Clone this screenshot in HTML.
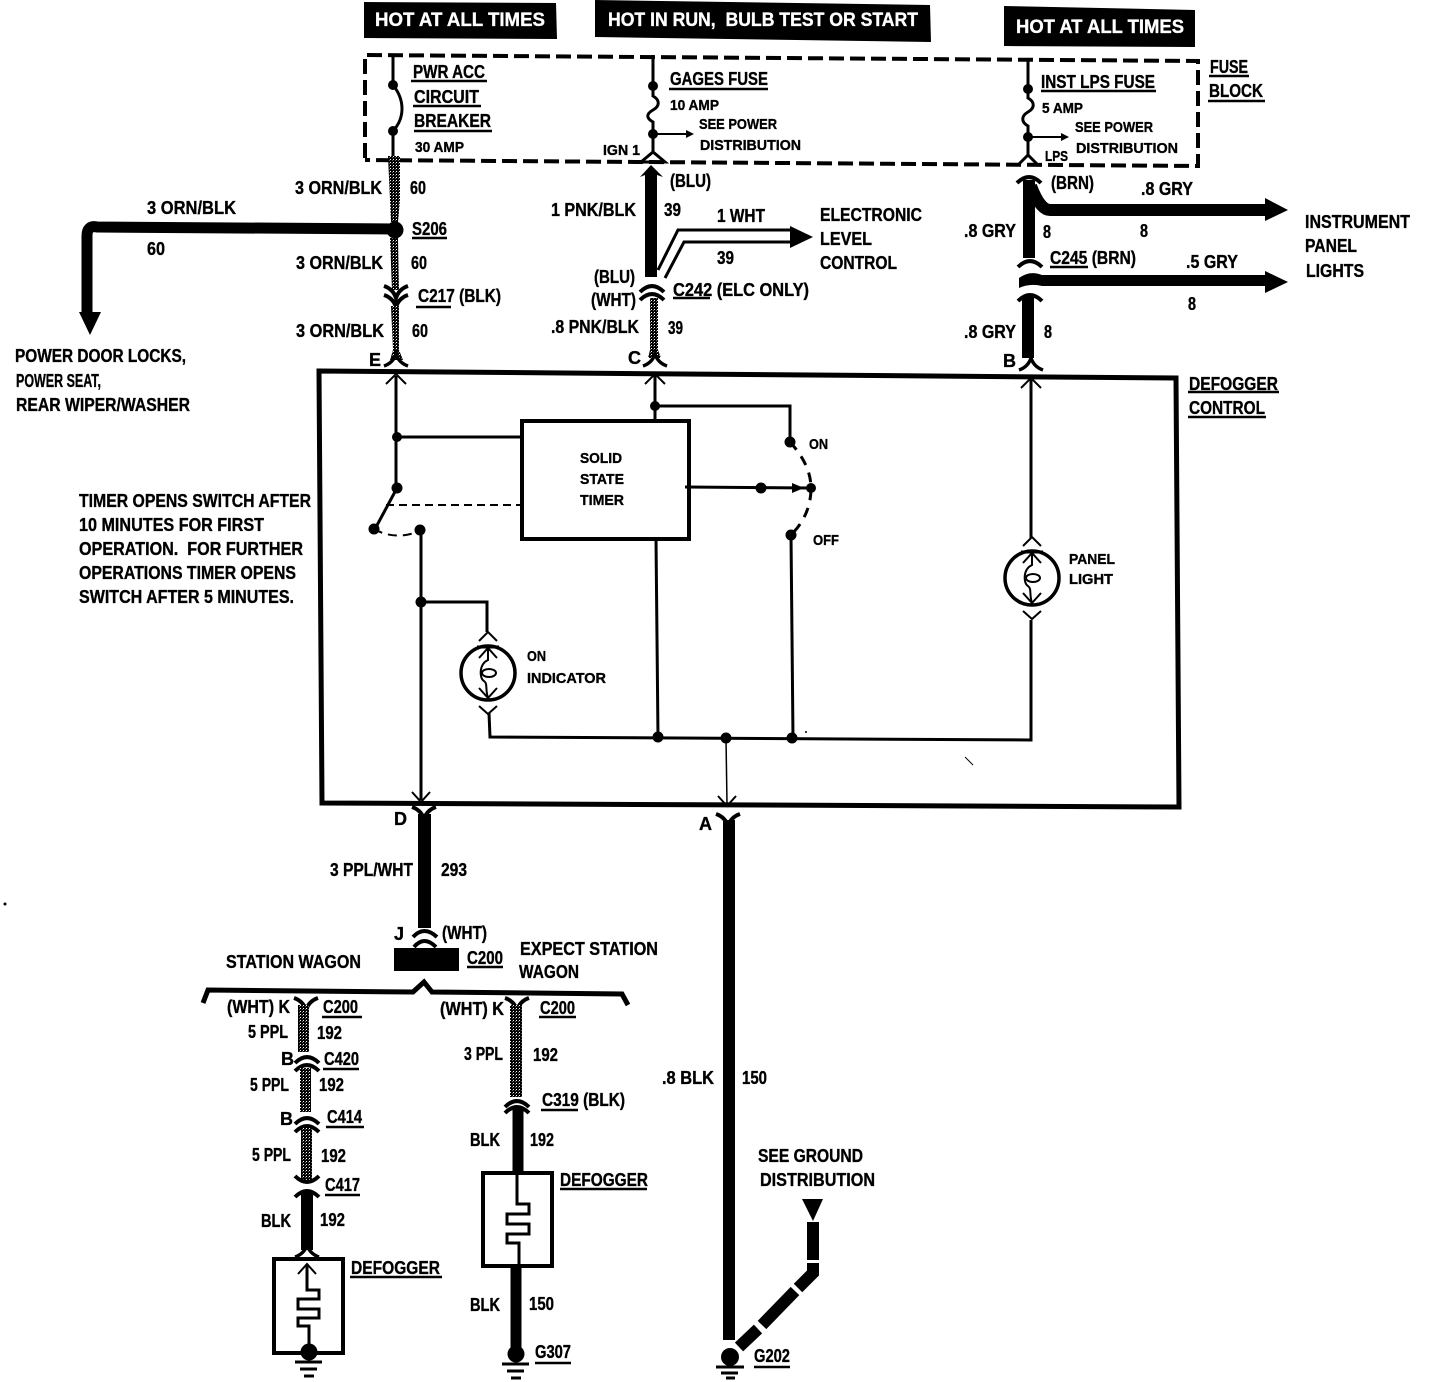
<!DOCTYPE html>
<html><head><meta charset="utf-8"><style>
html,body{margin:0;padding:0;background:#fff;width:1440px;height:1382px;overflow:hidden}
svg{display:block}
text{font-family:"Liberation Sans",sans-serif;font-weight:bold;fill:#000;stroke:#000;stroke-width:.35}
.l{font-size:18px}.m{font-size:16px}.s{font-size:15px}
text.w{fill:#fff;stroke:#fff;font-size:19px}
.t{fill:none;stroke:#000;stroke-width:3}
.n{fill:none;stroke:#000;stroke-width:2}
</style></head><body>
<svg width="1440" height="1382" viewBox="0 0 1440 1382" xmlns="http://www.w3.org/2000/svg">
<defs>
<pattern id="sp" width="3" height="3" patternUnits="userSpaceOnUse"><rect width="3" height="3" fill="#000"/><rect x="0" y="0" width="1" height="1" fill="#fff"/><rect x="2" y="1" width="1" height="1" fill="#666"/></pattern>
<g id="dn"><path d="M-12,5 Q0,-7 12,5" fill="none" stroke="#000" stroke-width="4"/></g>
<g id="up"><path d="M-12,-5 Q0,7 12,-5" fill="none" stroke="#000" stroke-width="4"/></g>
<g id="yy"><path d="M-12,7 Q-3,4 0,-5 Q3,4 12,7" fill="none" stroke="#000" stroke-width="3.5"/></g>
<g id="vv"><path d="M-12,-6 Q-3,-3 0,6 Q3,-3 12,-6" fill="none" stroke="#000" stroke-width="4"/></g>
<g id="bulb">
<circle cx="0" cy="0" r="27" fill="#fff" stroke="#000" stroke-width="3.5"/>
<path d="M-9,-32 L0,-41 L9,-32" class="n"/>
<path d="M-9,33 L0,41 L9,33" class="n"/>
<path d="M0,-25 V-13 C-9,-9 -9,5 -4,8 C0,11 -3,16 0,25" class="n"/>
<path d="M-9,-15 L0,-25 L9,-15 M-9,15 L0,25 L9,15" class="n"/>
<ellipse cx="1" cy="0" rx="7" ry="4" class="n"/>
<path d="M-11,-26 H11" stroke="#000" stroke-width="3"/>
</g>
<g id="ser"><path d="M0,-46 V-16 H12 V-6 H-10 V4 H12 V14 H-10 V23 H2 V46" fill="none" stroke="#000" stroke-width="3"/></g>
<g id="gnd"><circle cx="0" cy="0" r="8.5" fill="#000"/><path d="M-14,10 H13" stroke="#000" stroke-width="3"/><path d="M-9,17 H8" stroke="#000" stroke-width="3"/><path d="M-5,24 H5" stroke="#000" stroke-width="3"/></g>
</defs>

<!-- header boxes -->
<polygon points="364,2 556,3 557,39 364,38" fill="#000"/>
<polygon points="595,0 930,5 931,42 595,37" fill="#000"/>
<polygon points="1004,6 1195,10 1195,47 1004,46" fill="#000"/>
<text class="w" x="375" y="26" textLength="170" lengthAdjust="spacingAndGlyphs">HOT AT ALL TIMES</text>
<text class="w" x="608" y="26" textLength="310" lengthAdjust="spacingAndGlyphs" xml:space="preserve">HOT IN RUN,  BULB TEST OR START</text>
<text class="w" x="1016" y="33" textLength="168" lengthAdjust="spacingAndGlyphs">HOT AT ALL TIMES</text>

<!-- fuse block -->
<path d="M365,158 L365,55 L1198,61 L1198,166 L365,160" fill="none" stroke="#000" stroke-width="4" stroke-dasharray="15 6"/>

<!-- column E -->
<path d="M393,55 V85 C405,100 405,118 393,131 V160" class="t"/>
<circle cx="393" cy="85" r="5"/><circle cx="393" cy="131" r="5"/>
<polygon points="388,156 400,156 400,200 398,222 391,222 390,200" fill="url(#sp)"/>
<polygon points="390,238 398,238 399,290 392,290" fill="url(#sp)"/>
<use href="#vv" x="396" y="292"/><use href="#vv" x="396" y="301"/>
<polygon points="391,306 399,306 399,350 403,360 390,360 393,350" fill="url(#sp)"/>
<use href="#yy" x="396" y="359"/>
<circle cx="395" cy="230" r="8.5"/>
<path d="M393,229 L97,227 Q87,225 87,236 V316" fill="none" stroke="#000" stroke-width="11"/>
<polygon points="79,312 101,312 90,335"/>

<!-- column C -->
<path d="M653,55 V86 V96 C660,100 660,106 653,110 C646,114 646,118 653,122 V152" class="t"/>
<circle cx="653" cy="86" r="5"/><circle cx="653" cy="134" r="5"/>
<path d="M653,134 H688" class="n"/><polygon points="686,130 694,134 686,138"/>
<path d="M641,162 L653,152 L665,162 Z" class="t"/>
<polygon points="640,177 651,165 663,177 657,175 657,277 645,277 645,175"/>
<path d="M658,270 L678,230 H792 M665,278 L684,242 H792" class="t"/>
<polygon points="790,226 813,237 790,248"/>
<use href="#dn" x="652" y="287"/><use href="#dn" x="652" y="295"/>
<polygon points="650,298 658,298 658,350 661,358 648,358 650,350" fill="url(#sp)"/>
<use href="#yy" x="655" y="359"/>

<!-- column B -->
<path d="M1028,60 V89 V98 C1035,102 1035,108 1028,112 C1021,116 1021,122 1028,126 V155" class="t"/>
<circle cx="1028" cy="89" r="5"/><circle cx="1028" cy="137" r="5"/>
<path d="M1028,137 H1064" class="n"/><polygon points="1061,133 1069,137 1061,141"/>
<path d="M1018,165 L1028,155 L1038,165" class="t"/>
<use href="#dn" x="1029" y="178"/>
<path d="M1029,180 V258" stroke="#000" stroke-width="12" fill="none"/>
<path d="M1031,186 Q1040,210 1050,210 H1268" stroke="#000" stroke-width="12" fill="none"/>
<polygon points="1265,198 1288,210 1265,221"/>
<use href="#dn" x="1030" y="262"/>
<path d="M1019,288 V278 Q1030,270 1042,275 H1268 V286 H1042 Q1030,283 1019,288 Z" fill="#000"/>
<polygon points="1265,271 1288,282 1265,293"/>
<use href="#dn" x="1030" y="296"/>
<path d="M1028,296 V358" stroke="#000" stroke-width="12" fill="none"/>
<use href="#yy" x="1031" y="363"/>

<!-- defogger control box -->
<polygon points="319,371 1176,378 1179,807 322,803" fill="none" stroke="#000" stroke-width="5"/>
<path d="M396,376 V488 M396,437 H522" class="t"/>
<path d="M386,384 L396,374 L406,384" class="n"/>
<circle cx="397" cy="437" r="5"/><circle cx="397" cy="488" r="5.5"/>
<path d="M397,488 L375,529" class="t"/><circle cx="374" cy="529" r="5.5"/>
<path d="M386,505 H522" class="n" stroke-dasharray="8 5"/>
<path d="M374,529 Q395,541 420,531" class="n" stroke-dasharray="9 6"/>
<circle cx="420" cy="530" r="5.5"/>
<rect x="522" y="421" width="167" height="118" fill="none" stroke="#000" stroke-width="4"/>
<path d="M655,375 V421 M655,406 H790 V442" class="t"/>
<path d="M645,384 L655,374 L665,384" class="n"/>
<circle cx="655" cy="406" r="5"/><circle cx="790" cy="442" r="5.5"/>
<path d="M790,442 Q811,465 811,488 Q811,515 791,535" class="t" stroke-dasharray="10 8"/>
<path d="M685,487 L811,488" class="t"/><circle cx="761" cy="488" r="5.5"/>
<polygon points="792,483 804,488 792,493"/>
<circle cx="811" cy="488" r="5"/><circle cx="791" cy="535" r="5.5"/>
<path d="M791,535 L793,738 M656,539 L658,737" class="t"/>
<path d="M421,530 V800 M421,602 H487 V632" class="t" stroke-width="2.5"/>
<circle cx="421" cy="602" r="5.5"/>
<path d="M412,792 L421,802 L430,792" class="n"/>
<use href="#bulb" x="488" y="673"/>
<path d="M489,713 L490,737 L1031,740 V620 M1031,538 V378" class="t"/>
<path d="M1021,388 L1031,378 L1041,388" class="n"/>
<use href="#bulb" x="1032" y="578"/>
<circle cx="658" cy="737" r="5.5"/><circle cx="726" cy="738" r="5.5"/><circle cx="792" cy="738" r="5.5"/>
<path d="M726,738 L727,804" stroke="#000" stroke-width="1.5"/>
<path d="M718,796 L727,806 L736,796" class="n"/>
<path d="M965,757 L973,765" stroke="#000" stroke-width="1"/>

<!-- D wire -->
<use href="#vv" x="424" y="813"/>
<path d="M424.500,814 V928" stroke="#000" stroke-width="13"/>
<path d="M413,937 Q424,925 437,937" fill="none" stroke="#000" stroke-width="4"/>
<path d="M414,947 Q424,935 436,947" fill="none" stroke="#000" stroke-width="4"/>
<rect x="394" y="948" width="65" height="23"/>
<path d="M203,1003 L208,990 L413,992 L424,982 L432,992 L622,994 L628,1005" fill="none" stroke="#000" stroke-width="5"/>

<!-- A wire -->
<use href="#vv" x="728" y="820"/>
<path d="M729,820 V1340" stroke="#000" stroke-width="12" fill="none"/>
<polygon points="802,1199 823,1199 813,1221"/>
<path d="M813,1222 V1260" stroke="#000" stroke-width="12"/>
<path d="M813,1263 V1273 L798,1288" stroke="#000" stroke-width="12" fill="none"/>
<path d="M795,1291 L762,1325" stroke="#000" stroke-width="12"/>
<path d="M758,1329 L739,1347" stroke="#000" stroke-width="12"/>
<circle cx="730" cy="1357" r="9"/>
<path d="M716,1367 H744" stroke="#000" stroke-width="3"/><path d="M721,1373 H738" stroke="#000" stroke-width="3"/><path d="M726,1378 H735" stroke="#000" stroke-width="3"/>

<!-- left branch -->
<use href="#vv" x="306" y="1004"/>
<rect x="298" y="1005" width="11" height="47" fill="url(#sp)"/>
<use href="#dn" x="307" y="1058"/><use href="#dn" x="307" y="1066"/>
<rect x="300" y="1068" width="11" height="44" fill="url(#sp)"/>
<use href="#dn" x="307" y="1119"/><use href="#dn" x="307" y="1127"/>
<rect x="301" y="1127" width="11" height="53" fill="url(#sp)"/>
<use href="#up" x="307" y="1181"/><use href="#dn" x="307" y="1192"/>
<path d="M307,1192 V1250" stroke="#000" stroke-width="12"/>
<use href="#yy" x="307" y="1250"/>
<rect x="274" y="1259" width="69" height="94" fill="none" stroke="#000" stroke-width="4"/>
<path d="M307,1264 V1290 H319 V1299 H298 V1309 H319 V1318 H298 V1326 H309 V1353" fill="none" stroke="#000" stroke-width="3"/>
<path d="M298,1274 L307,1264 L316,1274" class="n"/>
<use href="#gnd" x="309" y="1352"/>

<!-- right branch -->
<use href="#vv" x="517" y="1004"/>
<rect x="510" y="1005" width="12" height="92" fill="url(#sp)"/>
<use href="#dn" x="517" y="1102"/><use href="#dn" x="517" y="1108"/>
<path d="M518,1108 V1172" stroke="#000" stroke-width="11"/>
<rect x="483" y="1173" width="69" height="93" fill="none" stroke="#000" stroke-width="4"/>
<use href="#ser" x="517" y="1220"/>
<path d="M516,1267 V1350" stroke="#000" stroke-width="11"/>
<use href="#gnd" x="516" y="1354"/>

<!-- stray specks -->
<circle cx="5" cy="904" r="1.5"/><circle cx="806" cy="732" r="1"/>

<!-- labels -->
<g class="l">
<text x="413" y="78" textLength="72" lengthAdjust="spacingAndGlyphs">PWR ACC</text>
<text x="414" y="103" textLength="65" lengthAdjust="spacingAndGlyphs">CIRCUIT</text>
<text x="414" y="127" textLength="77" lengthAdjust="spacingAndGlyphs">BREAKER</text>
<text x="670" y="85" textLength="98" lengthAdjust="spacingAndGlyphs">GAGES FUSE</text>
<text x="1041" y="88" textLength="114" lengthAdjust="spacingAndGlyphs">INST LPS FUSE</text>
<text x="1210" y="73" textLength="38" lengthAdjust="spacingAndGlyphs">FUSE</text>
<text x="1209" y="97" textLength="54" lengthAdjust="spacingAndGlyphs">BLOCK</text>
<text x="295" y="194" textLength="87" lengthAdjust="spacingAndGlyphs">3 ORN/BLK</text>
<text x="296" y="269" textLength="87" lengthAdjust="spacingAndGlyphs">3 ORN/BLK</text>
<text x="296" y="337" textLength="88" lengthAdjust="spacingAndGlyphs">3 ORN/BLK</text>
<text x="147" y="214" textLength="89" lengthAdjust="spacingAndGlyphs">3 ORN/BLK</text>
<text x="410" y="194" textLength="16" lengthAdjust="spacingAndGlyphs">60</text>
<text x="411" y="269" textLength="16" lengthAdjust="spacingAndGlyphs">60</text>
<text x="412" y="337" textLength="16" lengthAdjust="spacingAndGlyphs">60</text>
<text x="147" y="255" textLength="18" lengthAdjust="spacingAndGlyphs">60</text>
<text x="412" y="235" textLength="35" lengthAdjust="spacingAndGlyphs">S206</text>
<text x="418" y="302" textLength="83" lengthAdjust="spacingAndGlyphs">C217 (BLK)</text>
<text x="670" y="187" textLength="41" lengthAdjust="spacingAndGlyphs">(BLU)</text>
<text x="551" y="216" textLength="85" lengthAdjust="spacingAndGlyphs">1 PNK/BLK</text>
<text x="664" y="216" textLength="17" lengthAdjust="spacingAndGlyphs">39</text>
<text x="717" y="222" textLength="48" lengthAdjust="spacingAndGlyphs">1 WHT</text>
<text x="717" y="264" textLength="17" lengthAdjust="spacingAndGlyphs">39</text>
<text x="820" y="221" textLength="102" lengthAdjust="spacingAndGlyphs">ELECTRONIC</text>
<text x="820" y="245" textLength="52" lengthAdjust="spacingAndGlyphs">LEVEL</text>
<text x="820" y="269" textLength="77" lengthAdjust="spacingAndGlyphs">CONTROL</text>
<text x="594" y="283" textLength="41" lengthAdjust="spacingAndGlyphs">(BLU)</text>
<text x="591" y="306" textLength="45" lengthAdjust="spacingAndGlyphs">(WHT)</text>
<text x="673" y="296" textLength="136" lengthAdjust="spacingAndGlyphs">C242 (ELC ONLY)</text>
<text x="551" y="333" textLength="88" lengthAdjust="spacingAndGlyphs">.8 PNK/BLK</text>
<text x="668" y="334" textLength="15" lengthAdjust="spacingAndGlyphs">39</text>
<text x="369" y="366">E</text>
<text x="628" y="364">C</text>
<text x="1003" y="367">B</text>
<text x="15" y="362" textLength="171" lengthAdjust="spacingAndGlyphs">POWER DOOR LOCKS,</text>
<text x="16" y="387" textLength="85" lengthAdjust="spacingAndGlyphs">POWER SEAT,</text>
<text x="16" y="411" textLength="174" lengthAdjust="spacingAndGlyphs">REAR WIPER/WASHER</text>
<text x="1051" y="189" textLength="43" lengthAdjust="spacingAndGlyphs">(BRN)</text>
<text x="1141" y="195" textLength="52" lengthAdjust="spacingAndGlyphs">.8 GRY</text>
<text x="1140" y="237" textLength="8" lengthAdjust="spacingAndGlyphs">8</text>
<text x="964" y="237" textLength="52" lengthAdjust="spacingAndGlyphs">.8 GRY</text>
<text x="1043" y="238" textLength="8" lengthAdjust="spacingAndGlyphs">8</text>
<text x="1050" y="264" textLength="86" lengthAdjust="spacingAndGlyphs">C245 (BRN)</text>
<text x="1186" y="268" textLength="52" lengthAdjust="spacingAndGlyphs">.5 GRY</text>
<text x="1188" y="310" textLength="8" lengthAdjust="spacingAndGlyphs">8</text>
<text x="964" y="338" textLength="52" lengthAdjust="spacingAndGlyphs">.8 GRY</text>
<text x="1044" y="338" textLength="8" lengthAdjust="spacingAndGlyphs">8</text>
<text x="1305" y="228" textLength="105" lengthAdjust="spacingAndGlyphs">INSTRUMENT</text>
<text x="1305" y="252" textLength="52" lengthAdjust="spacingAndGlyphs">PANEL</text>
<text x="1306" y="277" textLength="58" lengthAdjust="spacingAndGlyphs">LIGHTS</text>
<text x="1189" y="390" textLength="89" lengthAdjust="spacingAndGlyphs">DEFOGGER</text>
<text x="1189" y="414" textLength="76" lengthAdjust="spacingAndGlyphs">CONTROL</text>
<text x="79" y="507" textLength="232" lengthAdjust="spacingAndGlyphs">TIMER OPENS SWITCH AFTER</text>
<text x="79" y="531" textLength="185" lengthAdjust="spacingAndGlyphs">10 MINUTES FOR FIRST</text>
<text x="79" y="555" textLength="224" lengthAdjust="spacingAndGlyphs" xml:space="preserve">OPERATION.  FOR FURTHER</text>
<text x="79" y="579" textLength="217" lengthAdjust="spacingAndGlyphs">OPERATIONS TIMER OPENS</text>
<text x="79" y="603" textLength="215" lengthAdjust="spacingAndGlyphs">SWITCH AFTER 5 MINUTES.</text>
<text x="394" y="825">D</text>
<text x="699" y="830">A</text>
<text x="330" y="876" textLength="83" lengthAdjust="spacingAndGlyphs">3 PPL/WHT</text>
<text x="441" y="876" textLength="26" lengthAdjust="spacingAndGlyphs">293</text>
<text x="662" y="1084" textLength="52" lengthAdjust="spacingAndGlyphs">.8 BLK</text>
<text x="742" y="1084" textLength="25" lengthAdjust="spacingAndGlyphs">150</text>
<text x="394" y="940">J</text>
<text x="442" y="939" textLength="45" lengthAdjust="spacingAndGlyphs">(WHT)</text>
<text x="467" y="964" textLength="36" lengthAdjust="spacingAndGlyphs">C200</text>
<text x="520" y="955" textLength="138" lengthAdjust="spacingAndGlyphs">EXPECT STATION</text>
<text x="519" y="978" textLength="60" lengthAdjust="spacingAndGlyphs">WAGON</text>
<text x="226" y="968" textLength="135" lengthAdjust="spacingAndGlyphs">STATION WAGON</text>
<text x="227" y="1013" textLength="63" lengthAdjust="spacingAndGlyphs">(WHT) K</text>
<text x="323" y="1013" textLength="35" lengthAdjust="spacingAndGlyphs">C200</text>
<text x="248" y="1038" textLength="40" lengthAdjust="spacingAndGlyphs">5 PPL</text>
<text x="317" y="1039" textLength="25" lengthAdjust="spacingAndGlyphs">192</text>
<text x="281" y="1065">B</text>
<text x="324" y="1065" textLength="35" lengthAdjust="spacingAndGlyphs">C420</text>
<text x="250" y="1091" textLength="39" lengthAdjust="spacingAndGlyphs">5 PPL</text>
<text x="319" y="1091" textLength="25" lengthAdjust="spacingAndGlyphs">192</text>
<text x="280" y="1125">B</text>
<text x="327" y="1123" textLength="35" lengthAdjust="spacingAndGlyphs">C414</text>
<text x="252" y="1161" textLength="39" lengthAdjust="spacingAndGlyphs">5 PPL</text>
<text x="321" y="1162" textLength="25" lengthAdjust="spacingAndGlyphs">192</text>
<text x="325" y="1191" textLength="35" lengthAdjust="spacingAndGlyphs">C417</text>
<text x="261" y="1227" textLength="30" lengthAdjust="spacingAndGlyphs">BLK</text>
<text x="320" y="1226" textLength="25" lengthAdjust="spacingAndGlyphs">192</text>
<text x="351" y="1274" textLength="89" lengthAdjust="spacingAndGlyphs">DEFOGGER</text>
<text x="440" y="1015" textLength="64" lengthAdjust="spacingAndGlyphs">(WHT) K</text>
<text x="540" y="1014" textLength="35" lengthAdjust="spacingAndGlyphs">C200</text>
<text x="464" y="1060" textLength="39" lengthAdjust="spacingAndGlyphs">3 PPL</text>
<text x="533" y="1061" textLength="25" lengthAdjust="spacingAndGlyphs">192</text>
<text x="542" y="1106" textLength="83" lengthAdjust="spacingAndGlyphs">C319 (BLK)</text>
<text x="470" y="1146" textLength="30" lengthAdjust="spacingAndGlyphs">BLK</text>
<text x="530" y="1146" textLength="24" lengthAdjust="spacingAndGlyphs">192</text>
<text x="560" y="1186" textLength="88" lengthAdjust="spacingAndGlyphs">DEFOGGER</text>
<text x="470" y="1311" textLength="30" lengthAdjust="spacingAndGlyphs">BLK</text>
<text x="529" y="1310" textLength="25" lengthAdjust="spacingAndGlyphs">150</text>
<text x="535" y="1358" textLength="36" lengthAdjust="spacingAndGlyphs">G307</text>
<text x="758" y="1162" textLength="105" lengthAdjust="spacingAndGlyphs">SEE GROUND</text>
<text x="760" y="1186" textLength="115" lengthAdjust="spacingAndGlyphs">DISTRIBUTION</text>
<text x="754" y="1362" textLength="36" lengthAdjust="spacingAndGlyphs">G202</text>
</g>
<g class="s">
<text x="415" y="152" textLength="49" lengthAdjust="spacingAndGlyphs">30 AMP</text>
<text x="670" y="110" textLength="49" lengthAdjust="spacingAndGlyphs">10 AMP</text>
<text x="699" y="129" textLength="78" lengthAdjust="spacingAndGlyphs">SEE POWER</text>
<text x="700" y="150" textLength="101" lengthAdjust="spacingAndGlyphs">DISTRIBUTION</text>
<text x="603" y="155" textLength="37" lengthAdjust="spacingAndGlyphs">IGN 1</text>
<text x="1042" y="113" textLength="41" lengthAdjust="spacingAndGlyphs">5 AMP</text>
<text x="1075" y="132" textLength="78" lengthAdjust="spacingAndGlyphs">SEE POWER</text>
<text x="1076" y="153" textLength="102" lengthAdjust="spacingAndGlyphs">DISTRIBUTION</text>
<text x="1045" y="161" textLength="23" lengthAdjust="spacingAndGlyphs">LPS</text>
<text x="580" y="463" textLength="42" lengthAdjust="spacingAndGlyphs">SOLID</text>
<text x="580" y="484" textLength="44" lengthAdjust="spacingAndGlyphs">STATE</text>
<text x="580" y="505" textLength="44" lengthAdjust="spacingAndGlyphs">TIMER</text>
<text x="809" y="449" textLength="19" lengthAdjust="spacingAndGlyphs">ON</text>
<text x="813" y="545" textLength="26" lengthAdjust="spacingAndGlyphs">OFF</text>
<text x="527" y="661" textLength="19" lengthAdjust="spacingAndGlyphs">ON</text>
<text x="527" y="683" textLength="79" lengthAdjust="spacingAndGlyphs">INDICATOR</text>
<text x="1069" y="564" textLength="46" lengthAdjust="spacingAndGlyphs">PANEL</text>
<text x="1069" y="584" textLength="44" lengthAdjust="spacingAndGlyphs">LIGHT</text>
</g>
<!-- underlines -->
<path stroke="#000" stroke-width="2.5" fill="none" d="M411,81H487 M413,106H481 M414,131H492 M669,89H768 M1041,91H1156 M1209,76H1249 M1208,101H1265 M412,238H447 M416,307H451 M673,298H710 M1050,267H1088 M1188,392H1279 M1188,417H1266 M467,967H503 M322,1017H362 M323,1069H359 M326,1127H364 M325,1195H360 M350,1277H442 M539,1017H576 M541,1110H578 M560,1189H647 M535,1363H571 M754,1367H790"/>
</svg>
</body></html>
